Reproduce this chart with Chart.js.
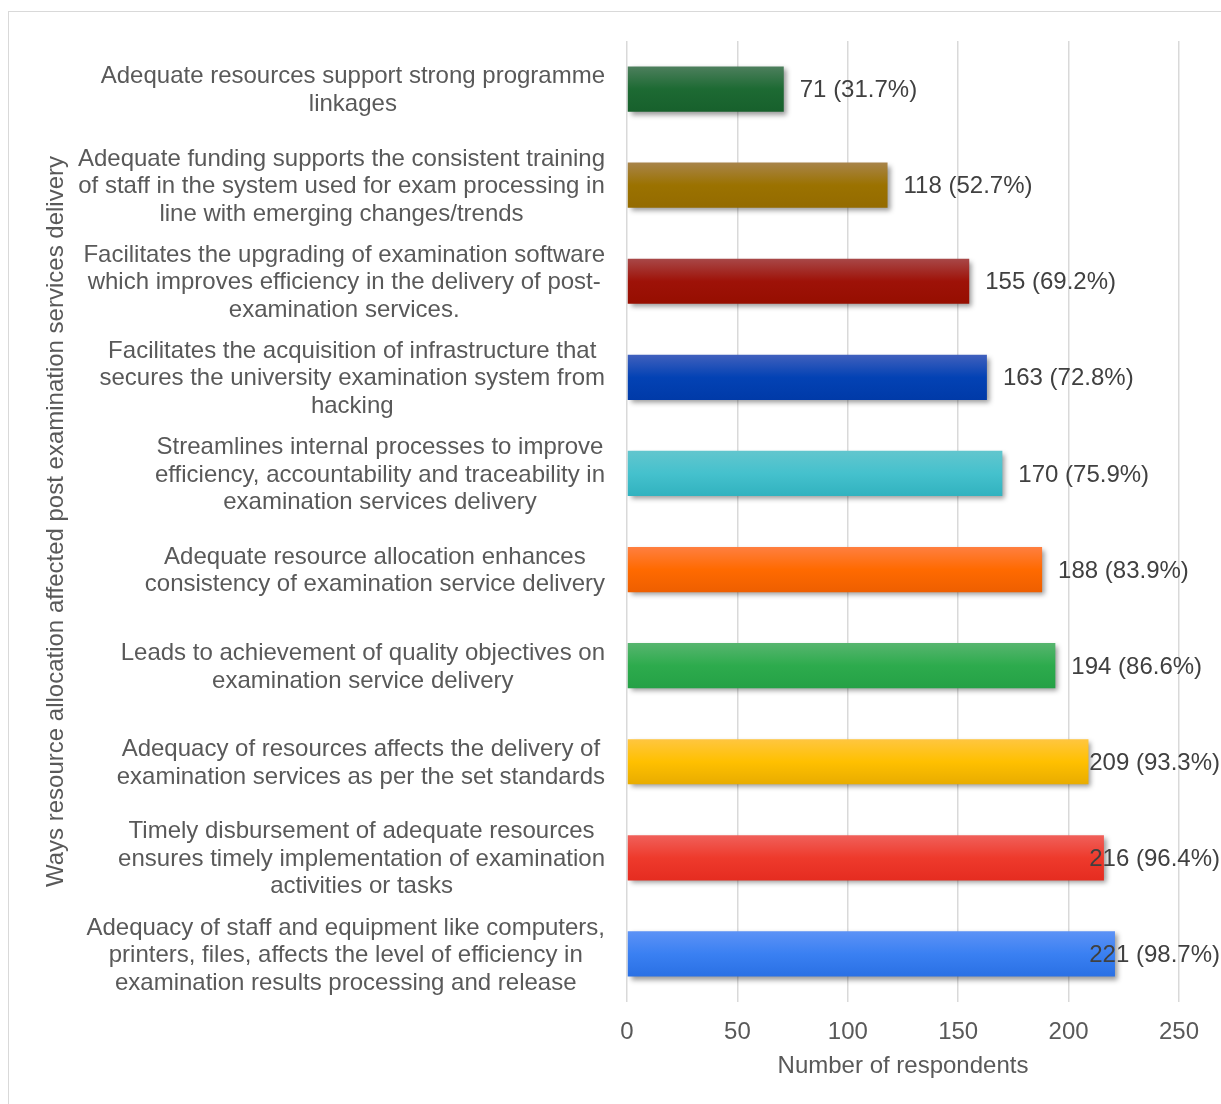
<!DOCTYPE html>
<html>
<head>
<meta charset="utf-8">
<script src="https://cdn.jsdelivr.net/npm/chart.js@4"></script>
<style>
  html, body { margin: 0; padding: 0; background: #fff; overflow: hidden; }
  #wrap { position: absolute; left: 0; top: 0; width: 1221px; height: 1104px; }
  #frame { position: absolute; left: 8px; top: 11px; width: 1240px; height: 1120px;
           border: 1px solid #d9d9d9; pointer-events: none; }
</style>
</head>
<body>
<div id="wrap"><canvas id="barChart"></canvas></div>
<div id="frame"></div>
<script>
// categories (top to bottom), each split into the lines shown
const categories = [
  ["Adequate resources support strong programme", "linkages"],
  ["Adequate funding supports the consistent training", "of staff in the system used for exam processing in", "line with emerging changes/trends"],
  ["Facilitates the upgrading of examination software", "which improves efficiency in the delivery of post-", "examination services."],
  ["Facilitates the acquisition of infrastructure that", "secures the university examination system from", "hacking"],
  ["Streamlines internal processes to improve", "efficiency, accountability and traceability in", "examination services delivery"],
  ["Adequate resource allocation enhances", "consistency of examination service delivery"],
  ["Leads to achievement of quality objectives on", "examination service delivery"],
  ["Adequacy of resources affects the delivery of", "examination services as per the set standards"],
  ["Timely disbursement of adequate resources", "ensures timely implementation of examination", "activities or tasks"],
  ["Adequacy of staff and equipment like computers,", "printers, files, affects the level of efficiency in", "examination results processing and release"],
];
const respondents = [71, 118, 155, 163, 170, 188, 194, 209, 216, 221];
const percents = ["31.7", "52.7", "69.2", "72.8", "75.9", "83.9", "86.6", "93.3", "96.4", "98.7"];
const xTicks = [0, 50, 100, 150, 200, 250];

// bar colours: top, middle, bottom of gradient
const barColors = [
  ["#4d7f5d", "#1d6a33", "#17602c"],
  ["#a8844a", "#9b7200", "#946b00"],
  ["#a84848", "#9e1208", "#960e00"],
  ["#4060bd", "#0342b4", "#003aa8"],
  ["#62c6ce", "#45c1cd", "#31b2bf"],
  ["#ff7f40", "#ff6a00", "#ee5f00"],
  ["#57b56f", "#2dab4d", "#25a146"],
  ["#ffc640", "#ffc000", "#e8ac00"],
  ["#f0605a", "#ee3a2c", "#e52c20"],
  ["#5c92f6", "#3a80f2", "#2a70e4"],
];

const FONT = "'Liberation Sans', Arial, sans-serif";
const FONT_SIZE = 24;
const BAR_PCT = 0.47;

function barGradient(c) {
  const chart = c.chart;
  const col = barColors[c.dataIndex];
  const ys = chart.scales.y;
  if (!chart.chartArea || !ys) return col[1];
  const y = ys.getPixelForValue(c.dataIndex);
  const h = Math.abs(ys.getPixelForValue(1) - ys.getPixelForValue(0)) * BAR_PCT;
  const g = chart.ctx.createLinearGradient(0, y - h / 2, 0, y + h / 2);
  g.addColorStop(0, col[0]);
  g.addColorStop(0.5, col[1]);
  g.addColorStop(1, col[2]);
  return g;
}

// shadow under the bars
const barShadow = {
  id: "barShadow",
  beforeDatasetsDraw(chart) {
    const ctx = chart.ctx;
    ctx.save();
    ctx.shadowColor = "rgba(0,0,0,0.4)";
    ctx.shadowBlur = 5;
    ctx.shadowOffsetX = 3;
    ctx.shadowOffsetY = 3;
  },
  afterDatasetsDraw(chart) {
    chart.ctx.restore();
  },
};

// category labels (lines centred, block right-aligned) and value labels
const labelsPlugin = {
  id: "labelsPlugin",
  afterDraw(chart) {
    const ctx = chart.ctx;
    const ys = chart.scales.y;
    const xs = chart.scales.x;
    const lineH = 27.5;
    ctx.save();
    ctx.font = FONT_SIZE + "px " + FONT;
    ctx.textBaseline = "middle";
    ctx.textAlign = "center";
    ctx.fillStyle = "#595959";
    const rightEdge = xs.left - 22;
    categories.forEach((lines, i) => {
      const y = ys.getPixelForTick(i) + 1.5;
      const w = Math.max(...lines.map((l) => ctx.measureText(l).width));
      const cx = rightEdge - w / 2;
      const y0 = y - ((lines.length - 1) * lineH) / 2;
      lines.forEach((l, k) => ctx.fillText(l, cx, y0 + k * lineH));
    });

    ctx.textAlign = "left";
    ctx.fillStyle = "#404040";
    respondents.forEach((v, i) => {
      const txt = v + " (" + percents[i] + "%)";
      const w = ctx.measureText(txt).width;
      const x = Math.min(xs.getPixelForValue(v) + 16, chart.width - 1 - w);
      ctx.fillText(txt, x, ys.getPixelForValue(i) + 1.5);
    });
    ctx.restore();
  },
};

document.addEventListener("DOMContentLoaded", function () {
  const config = {
    type: "bar",
    data: {
      labels: categories.map((c) => c.join(" ")),
      datasets: [
        {
          label: "Number of respondents",
          data: respondents,
          backgroundColor: barGradient,
          borderWidth: 0,
          barPercentage: BAR_PCT,
          categoryPercentage: 1,
        },
      ],
    },
    options: {
      indexAxis: "y",
      responsive: true,
      maintainAspectRatio: false,
      animation: false,
      layout: {
        padding: { top: 41, bottom: 0, left: 9, right: 42 },
      },
      plugins: {
        legend: { display: false },
        tooltip: { enabled: false },
      },
      scales: {
        x: {
          min: 0,
          max: 250,
          afterBuildTicks(scale) {
            scale.ticks = xTicks.map((v) => ({ value: v }));
          },
          grid: { color: "#d9d9d9", lineWidth: 1.5, drawTicks: false },
          border: { display: false },
          ticks: {
            color: "#595959",
            font: { family: FONT, size: FONT_SIZE },
            padding: 16,
          },
          title: {
            display: true,
            text: "Number of respondents",
            color: "#595959",
            font: { family: FONT, size: FONT_SIZE },
            padding: { top: 0, bottom: 23 },
          },
          afterFit(scale) {
            scale.height = 102;
          },
        },
        y: {
          grid: { display: false },
          border: { display: false },
          ticks: { display: false },
          title: {
            display: true,
            text: "Ways resource allocation affected post examination services delivery",
            color: "#595959",
            font: { family: FONT, size: FONT_SIZE },
            padding: { top: 33, bottom: 0 },
          },
          afterFit(scale) {
            scale.width = 618;
          },
        },
      },
    },
    plugins: [barShadow, labelsPlugin],
  };

  const barChart = new Chart(document.getElementById("barChart"), config);
});
</script>
</body>
</html>
